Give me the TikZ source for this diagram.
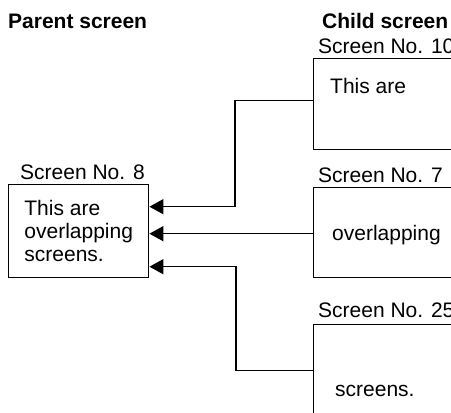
\documentclass[tikz,border=0pt]{standalone}
\usepackage{fontspec}
\setmainfont{Liberation Sans}
\usetikzlibrary{arrows.meta,positioning}
\tikzset{
    screenbox/.style={
        draw,
        line width=1.4pt,
        minimum width=140pt,
        anchor=north west,
        inner sep=0pt
    },
    childbox/.style={screenbox,minimum width=170pt},
    caption/.style={anchor=base west,inner sep=0pt},
    heading/.style={caption,font=\fontsize{21}{23}\selectfont\bfseries},
    % arrow from a child screen to the parent screen
    linkarrow/.style={
        line width=1.4pt,
        -{Triangle[length=14pt, width=15pt]}
    }
}

\begin{document}
\begin{tikzpicture}[x=1pt,y=-1pt,font=\fontsize{21}{23}\selectfont]
    \clip (0,0) rectangle (451,413);
    % parent screen
    \node[heading] (ptitle) at (8,28) {Parent screen};
    \node[caption] (plabel) at (20,179) {Screen No. 8};
    \node[screenbox,align=left,minimum height=93pt] (parent) at (8,184)
        {This are\\overlapping\\screens.};

    % child screens
    \node[heading] (ctitle) at (322,28) {Child screen};
    \node[caption] (label10) at (318,53) {Screen No. 10};
    \node[childbox,minimum height=91pt] (child10) at (313,58) {};
    \node[caption] (text10) at (330,93) {This are};

    \node[caption] (label7) at (318,182) {Screen No. 7};
    \node[childbox,minimum height=90pt] (child7) at (313,187) {};
    \node[caption] (text7) at (332,240) {overlapping};

    \node[caption] (label25) at (318,317) {Screen No. 25};
    \node[childbox,minimum height=92pt] (child25) at (313,324) {};
    \node[caption] (text25) at (335,396) {screens.};

    % links
    \draw[linkarrow] ([yshift=4pt]child10.west) -- ++(-78,0) |- ([yshift=24.5pt]parent.east);
    \draw[linkarrow] ([yshift=-1pt]child7.west) -- ([yshift=-2.5pt]parent.east);
    \draw[linkarrow] (child25.west) -- ++(-77,0) |- ([yshift=-35.5pt]parent.east);
\end{tikzpicture}
\end{document}
